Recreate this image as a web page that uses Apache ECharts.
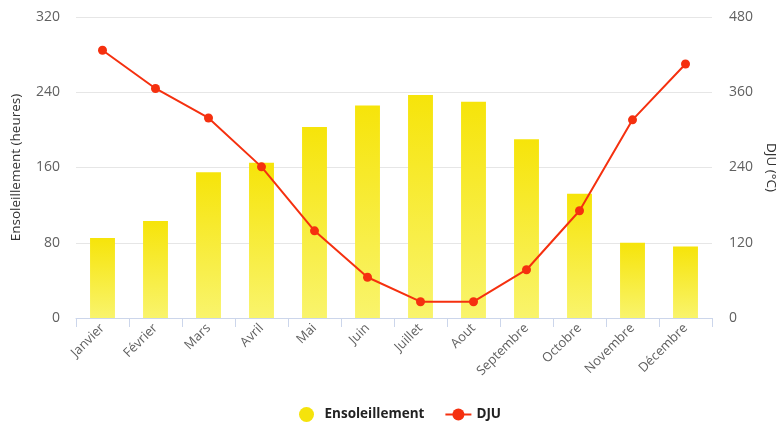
<!DOCTYPE html>
<html>
<head>
<meta charset="utf-8">
<script src="https://cdn.jsdelivr.net/npm/echarts@6/dist/echarts.min.js"></script>
<style>
  html, body { margin: 0; padding: 0; background: #fff; }
  #chart { width: 780px; height: 422px; }
</style>
</head>
<body>
<div id="chart"></div>
<script>
// Mois de l'année
const mois = ['Janvier', 'Février', 'Mars', 'Avril', 'Mai', 'Juin', 'Juillet', 'Aout', 'Septembre', 'Octobre', 'Novembre', 'Décembre'];
// Ensoleillement mensuel (heures)
const ensoleillement = [85, 103, 155, 165, 203, 226, 237, 230, 190, 132, 80, 76];
// Degrés-jours unifiés (°C)
const dju = [427, 366, 319, 241, 139, 65, 26, 26, 77, 171, 316, 405];
// Graduations des axes
const heuresTicks = { min: 0, max: 320, interval: 80 };
const djuTicks = { min: 0, max: 480, interval: 120 };

const chart = echarts.init(document.getElementById('chart'), null, { renderer: 'canvas' });

const labelStyle = { color: '#606060', fontSize: 14, fontFamily: 'Open Sans, sans-serif' };
const nameStyle = { color: '#333333', fontSize: 13.5, fontFamily: 'Open Sans, sans-serif' };

chart.setOption({
  animation: false,
  grid: { left: 76, right: 68, top: 17, bottom: 104, containLabel: false, outerBoundsMode: 'none' },
  legend: {
    top: 402,
    left: 294,
    itemGap: 20,
    itemWidth: 26,
    itemHeight: 15,
    textStyle: { color: '#222222', fontSize: 13.5, fontWeight: 'bold', fontFamily: 'Open Sans, sans-serif' },
    data: [
      { name: 'Ensoleillement', icon: 'circle', itemStyle: { color: '#f5e30c' } },
      { name: 'DJU' }
    ]
  },
  xAxis: {
    type: 'category',
    data: mois,
    boundaryGap: true,
    axisLine: { lineStyle: { color: '#ccd6eb', width: 1 } },
    axisTick: { show: true, length: 9, alignWithLabel: false, lineStyle: { color: '#ccd6eb' } },
    axisLabel: Object.assign({ rotate: 45, margin: 8, interval: 0 }, labelStyle, { fontSize: 13 }),
    splitLine: { show: false }
  },
  yAxis: [
    {
      type: 'value',
      min: heuresTicks.min,
      max: heuresTicks.max,
      interval: heuresTicks.interval,
      name: 'Ensoleillement (heures)',
      nameLocation: 'middle',
      nameGap: 53,
      nameRotate: 90,
      nameTextStyle: nameStyle,
      axisLabel: Object.assign({ margin: 16 }, labelStyle),
      axisLine: { show: false },
      axisTick: { show: false },
      splitLine: { lineStyle: { color: '#e6e6e6', width: 1 } }
    },
    {
      type: 'value',
      position: 'right',
      min: djuTicks.min,
      max: djuTicks.max,
      interval: djuTicks.interval,
      name: 'DJU (°C)',
      nameLocation: 'middle',
      nameGap: 50,
      nameRotate: -90,
      nameTextStyle: nameStyle,
      axisLabel: Object.assign({ margin: 17 }, labelStyle),
      axisLine: { show: false },
      axisTick: { show: false },
      splitLine: { show: false }
    }
  ],
  series: [
    {
      name: 'Ensoleillement',
      type: 'bar',
      yAxisIndex: 0,
      data: ensoleillement,
      barWidth: '47%',
      itemStyle: {
        color: new echarts.graphic.LinearGradient(0, 0, 0, 1, [
          { offset: 0, color: '#f6e40a' },
          { offset: 1, color: '#f9f46c' }
        ])
      }
    },
    {
      name: 'DJU',
      type: 'line',
      yAxisIndex: 1,
      data: dju,
      symbol: 'circle',
      symbolSize: 9,
      lineStyle: { color: '#f5300f', width: 2 },
      itemStyle: { color: '#f5300f' },
      z: 5
    }
  ]
});
</script>
</body>
</html>
